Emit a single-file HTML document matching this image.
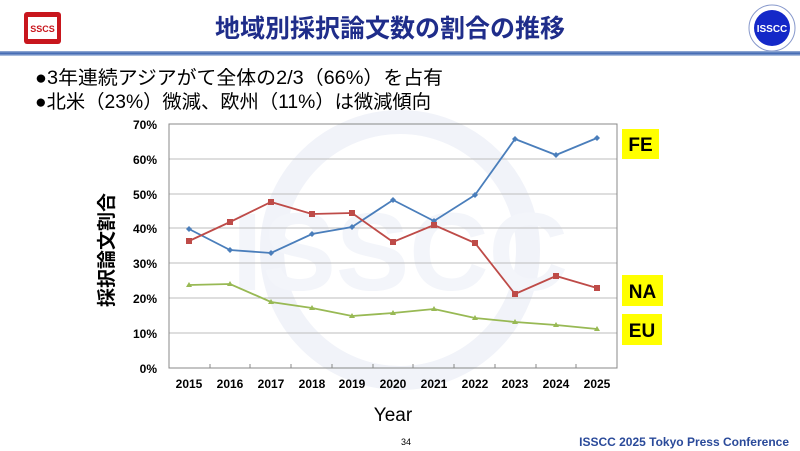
<!DOCTYPE html>
<html><head><meta charset="utf-8"><style>
body{margin:0;background:#fff}
svg{display:block}
</style></head><body>
<svg width="800" height="451" viewBox="0 0 800 451" xmlns="http://www.w3.org/2000/svg" font-family="Liberation Sans, Noto Sans CJK JP, sans-serif">
<defs>
<linearGradient id="hl" x1="0" y1="0" x2="0" y2="1"><stop offset="0" stop-color="#9db3d8"/><stop offset="0.5" stop-color="#3b64b0"/><stop offset="1" stop-color="#c5d3ea"/></linearGradient>
</defs>
<rect width="800" height="451" fill="#fff"/>
<!-- watermark -->
<circle cx="400" cy="250" r="128" fill="none" stroke="#f1f3f9" stroke-width="24"/>
<text x="400" y="290" text-anchor="middle" font-size="110" font-weight="bold" fill="#f3f5fa">ISSCC</text>
<!-- header -->
<rect x="24" y="12" width="37" height="32" rx="3" fill="#c8161d"/>
<rect x="28" y="17" width="29" height="22" fill="#fff"/>
<text x="42.5" y="32" text-anchor="middle" font-size="9" font-weight="bold" fill="#c8161d">SSCS</text>
<circle cx="772" cy="28" r="23" fill="#fff" stroke="#8899cc" stroke-width="1"/>
<circle cx="772" cy="28" r="18" fill="#1428c8"/>
<text x="772" y="32" text-anchor="middle" font-size="10" font-weight="bold" fill="#fff">ISSCC</text>
<text x="390" y="37" text-anchor="middle" font-size="25" font-weight="bold" fill="#1f2d8a">地域別採択論文数の割合の推移</text>
<rect x="0" y="51" width="800" height="5" fill="url(#hl)"/>
<text x="35" y="84" font-size="19" fill="#000" textLength="408" lengthAdjust="spacingAndGlyphs">●3年連続アジアがて全体の2/3（66%）を占有</text>
<text x="35" y="108" font-size="19" fill="#000" textLength="396" lengthAdjust="spacingAndGlyphs">●北米（23%）微減、欧州（11%）は微減傾向</text>
<!-- grid -->
<g stroke="#bdbdbd" stroke-width="1">
<line x1="169" y1="124" x2="617" y2="124"/>
<line x1="169" y1="159" x2="617" y2="159"/>
<line x1="169" y1="194" x2="617" y2="194"/>
<line x1="169" y1="228" x2="617" y2="228"/>
<line x1="169" y1="263" x2="617" y2="263"/>
<line x1="169" y1="298" x2="617" y2="298"/>
<line x1="169" y1="333" x2="617" y2="333"/>
</g>
<rect x="169" y="124" width="448" height="244" fill="none" stroke="#888" stroke-width="1"/>
<g stroke="#888"><line x1="169" y1="368" x2="617" y2="368"/>
<line x1="210" y1="368" x2="210" y2="364"/><line x1="250" y1="368" x2="250" y2="364"/><line x1="291" y1="368" x2="291" y2="364"/><line x1="332" y1="368" x2="332" y2="364"/><line x1="373" y1="368" x2="373" y2="364"/><line x1="413" y1="368" x2="413" y2="364"/><line x1="454" y1="368" x2="454" y2="364"/><line x1="495" y1="368" x2="495" y2="364"/><line x1="536" y1="368" x2="536" y2="364"/><line x1="576" y1="368" x2="576" y2="364"/></g>
<g font-size="12" font-weight="bold" text-anchor="end" fill="#000">
<text x="157" y="129">70%</text><text x="157" y="164">60%</text><text x="157" y="199">50%</text><text x="157" y="233">40%</text><text x="157" y="268">30%</text><text x="157" y="303">20%</text><text x="157" y="338">10%</text><text x="157" y="373">0%</text>
</g>
<g font-size="12" font-weight="bold" text-anchor="middle" fill="#000">
<text x="189" y="388">2015</text><text x="230" y="388">2016</text><text x="271" y="388">2017</text><text x="312" y="388">2018</text><text x="352" y="388">2019</text><text x="393" y="388">2020</text><text x="434" y="388">2021</text><text x="475" y="388">2022</text><text x="515" y="388">2023</text><text x="556" y="388">2024</text><text x="597" y="388">2025</text>
</g>
<text x="393" y="421" text-anchor="middle" font-size="19" fill="#000">Year</text>
<text transform="translate(113,250) rotate(-90)" text-anchor="middle" font-size="19" font-weight="bold" fill="#000">採択論文割合</text>
<!-- series -->
<polyline fill="none" stroke="#4a7ebb" stroke-width="1.8" points="189,229 230,250 271,253 312,234 352,227 393,200 434,221 475,195 515,139 556,155 597,138"/>
<g fill="#4a7ebb">
<path d="M189,226l3,3l-3,3l-3,-3z"/><path d="M230,247l3,3l-3,3l-3,-3z"/><path d="M271,250l3,3l-3,3l-3,-3z"/><path d="M312,231l3,3l-3,3l-3,-3z"/><path d="M352,224l3,3l-3,3l-3,-3z"/><path d="M393,197l3,3l-3,3l-3,-3z"/><path d="M434,218l3,3l-3,3l-3,-3z"/><path d="M475,192l3,3l-3,3l-3,-3z"/><path d="M515,136l3,3l-3,3l-3,-3z"/><path d="M556,152l3,3l-3,3l-3,-3z"/><path d="M597,135l3,3l-3,3l-3,-3z"/>
</g>
<polyline fill="none" stroke="#be4b48" stroke-width="1.8" points="189,241 230,222 271,202 312,214 352,213 393,242 434,225 475,243 515,294 556,276 597,288"/>
<g fill="#be4b48">
<rect x="186" y="238" width="6" height="6"/><rect x="227" y="219" width="6" height="6"/><rect x="268" y="199" width="6" height="6"/><rect x="309" y="211" width="6" height="6"/><rect x="349" y="210" width="6" height="6"/><rect x="390" y="239" width="6" height="6"/><rect x="431" y="222" width="6" height="6"/><rect x="472" y="240" width="6" height="6"/><rect x="512" y="291" width="6" height="6"/><rect x="553" y="273" width="6" height="6"/><rect x="594" y="285" width="6" height="6"/>
</g>
<polyline fill="none" stroke="#98b954" stroke-width="1.8" points="189,285 230,284 271,302 312,308 352,316 393,313 434,309 475,318 515,322 556,325 597,329"/>
<g fill="#98b954">
<path d="M189,282l3,5h-6z"/><path d="M230,281l3,5h-6z"/><path d="M271,299l3,5h-6z"/><path d="M312,305l3,5h-6z"/><path d="M352,313l3,5h-6z"/><path d="M393,310l3,5h-6z"/><path d="M434,306l3,5h-6z"/><path d="M475,315l3,5h-6z"/><path d="M515,319l3,5h-6z"/><path d="M556,322l3,5h-6z"/><path d="M597,326l3,5h-6z"/>
</g>
<!-- labels -->
<rect x="622" y="129" width="37" height="30" fill="#ffff00"/>
<text x="640.5" y="151" text-anchor="middle" font-size="19" font-weight="bold">FE</text>
<rect x="622" y="275" width="41" height="31" fill="#ffff00"/>
<text x="642.5" y="298" text-anchor="middle" font-size="19" font-weight="bold">NA</text>
<rect x="622" y="314" width="40" height="31" fill="#ffff00"/>
<text x="642" y="337" text-anchor="middle" font-size="19" font-weight="bold">EU</text>
<!-- footer -->
<text x="406" y="445" text-anchor="middle" font-size="9" fill="#000">34</text>
<text x="789" y="446" text-anchor="end" font-size="12" font-weight="bold" fill="#2a4a9a">ISSCC 2025 Tokyo Press Conference</text>
</svg>
</body></html>
